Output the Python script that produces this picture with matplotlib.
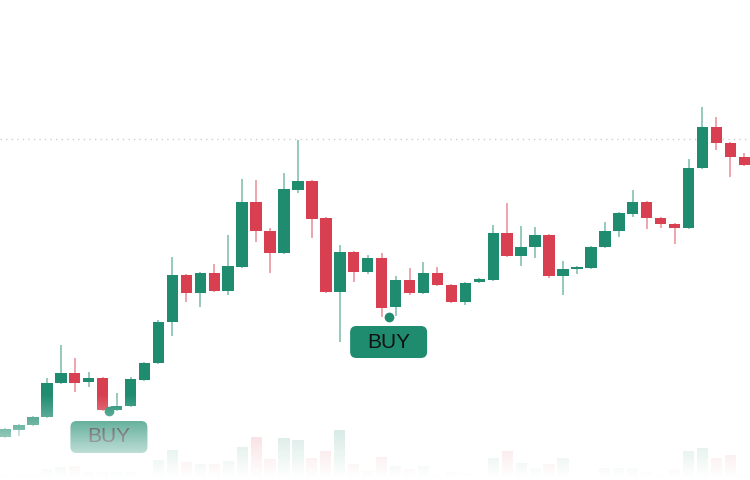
import numpy as np
import matplotlib.pyplot as plt
from matplotlib.patches import FancyBboxPatch

# candle data (price scale = pixels from the bottom edge)
opens = [43, 50, 55, 63, 97, 107, 98, 102, 70, 74, 100, 117, 158, 205, 187, 207, 189, 213,
         278, 249, 227, 290, 299, 262, 188, 228, 208, 222, 173, 200, 187, 207, 195, 178,
         198, 200, 247, 224, 233, 245, 204, 211, 212, 233, 249, 266, 278, 262, 256, 252,
         312, 353, 337, 323]
closes = [51, 55, 63, 97, 107, 97, 102, 70, 74, 101, 117, 158, 205, 187, 207, 189, 214, 278,
          249, 227, 291, 299, 261, 188, 228, 208, 222, 172, 200, 187, 207, 195, 178, 197,
          201, 247, 224, 233, 245, 204, 211, 213, 233, 249, 267, 278, 262, 256, 252, 312,
          353, 337, 323, 315]
highs = [52, 56, 64, 102, 135, 122, 108, 103, 87, 103, 118, 160, 223, 206, 208, 216, 245, 301,
         300, 252, 307, 340, 300, 263, 235, 229, 225, 227, 204, 212, 218, 213, 196, 198,
         202, 255, 277, 254, 253, 246, 219, 214, 234, 258, 268, 290, 279, 263, 257, 321,
         373, 363, 338, 327]
lows = [42, 44, 54, 62, 96, 88, 93, 69, 69, 73, 99, 116, 144, 178, 173, 188, 185, 212,
        238, 207, 226, 287, 242, 187, 138, 198, 206, 163, 164, 185, 186, 194, 177, 175,
        197, 199, 223, 214, 222, 202, 185, 206, 211, 232, 243, 263, 251, 252, 236, 251,
        311, 330, 303, 314]
volumes = [5, 5, 6, 11, 13, 14, 8, 8, 8, 8, 5, 20, 30, 18, 16, 16, 19, 33, 43, 21, 42, 40,
           22, 29, 50, 16, 9, 23, 14, 11, 14, 5, 8, 7, 5, 22, 29, 17, 12, 16, 22, 5, 5, 12,
           12, 12, 8, 5, 10, 29, 32, 22, 25, 5]

# buy signals: position between candles, dot price, label centre price
buy_pos = [7.45, 27.5]
buy_dot = [69, 163]
buy_label = [43, 138]
ref_level = 341

GREEN = '#1f8c70'
RED = '#d83f50'

o = np.array(opens)
c = np.array(closes)
h = np.array(highs)
l = np.array(lows)
x = np.arange(len(o))
up = c >= o
cols = np.where(up, GREEN, RED)

fig = plt.figure(figsize=(7.5, 4.8), dpi=100)
ax = fig.add_axes([0, 0, 1, 1])
x0, x1 = -0.358, -0.358 + 750 / 13.95
ax.set_xlim(x0, x1)
ax.set_ylim(0, 480)
ax.axis('off')

# reference level
ax.axhline(ref_level, color='#d2cfcf', lw=1, ls=(0, (1, 3)), zorder=1)

# volume
ax.bar(x, volumes, width=0.8, bottom=0, color=cols, alpha=0.3, lw=0, zorder=1)

# wicks + bodies
ax.vlines(x, l, h, colors=cols, lw=1.2, alpha=0.55, zorder=2)
body_h = np.maximum(np.abs(c - o), 2)
ax.bar(x, body_h, width=0.82, bottom=np.minimum(o, c), color=cols, lw=0, zorder=3)

# buy markers
for bx, by, ly in zip(buy_pos, buy_dot, buy_label):
    ax.plot(bx, by, 'o', color=GREEN, ms=7, mec='none', zorder=4)
    w, hh = 77 / 13.95, 32
    box = FancyBboxPatch((bx - w / 2, ly - hh / 2), w, hh,
                         boxstyle='round,pad=0,rounding_size=0.45',
                         mutation_aspect=13.95, fc=GREEN, ec='none', zorder=5)
    ax.add_patch(box)
    ax.text(bx, ly, 'BUY', ha='center', va='center', fontsize=15,
            family='Liberation Sans', color='#111111', zorder=6)

# fade towards the bottom edge
ys = np.linspace(0, 480, 481)
alpha = np.clip((85 - ys) / 82, 0, 1)
fade = np.ones((len(ys), 2, 4))
fade[:, :, 3] = alpha[:, None]
ax.imshow(fade, extent=[x0, x1, 0, 480], origin='lower',
          aspect='auto', zorder=10, interpolation='bilinear')
ax.set_xlim(x0, x1)
ax.set_ylim(0, 480)

fig.savefig('out.png', dpi=100)
